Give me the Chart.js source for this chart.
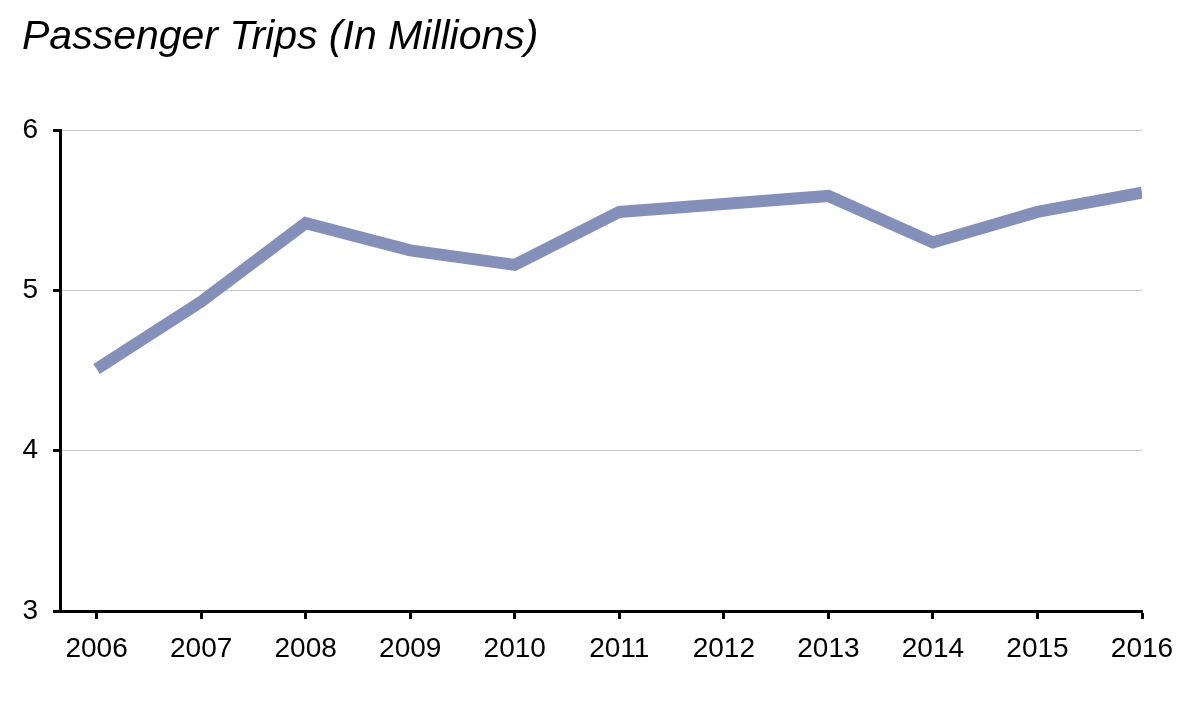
<!DOCTYPE html>
<html>
<head>
<meta charset="utf-8">
<script src="https://cdn.jsdelivr.net/npm/chart.js@4"></script>
<style>
  html, body { margin: 0; padding: 0; background: #fff; }
  #wrap { width: 1200px; height: 708px; }
</style>
</head>
<body>
<div id="wrap"><canvas id="myChart" width="1200" height="708"></canvas></div>
<script>
const years = [2006, 2007, 2008, 2009, 2010, 2011, 2012, 2013, 2014, 2015, 2016];
const trips = [4.51, 4.93, 5.42, 5.25, 5.16, 5.49, 5.54, 5.59, 5.30, 5.49, 5.61];
const yTicks = [3, 4, 5, 6];
const chartTitle = 'Passenger Trips (In Millions)';

const ctx = document.getElementById('myChart');

new Chart(ctx, {
  type: 'line',
  data: {
    datasets: [{
      label: chartTitle,
      data: years.map((y, i) => ({ x: y, y: trips[i] })),
      borderColor: '#8590ba',
      borderWidth: 12,
      borderCapStyle: 'butt',
      borderJoinStyle: 'miter',
      pointRadius: 0,
      tension: 0,
      fill: false
    }]
  },
  options: {
    responsive: false,
    animation: false,
    layout: { padding: { left: 22, right: 58, top: 0, bottom: 0 } },
    plugins: {
      legend: { display: false },
      tooltip: { enabled: false },
      title: {
        display: true,
        text: chartTitle,
        align: 'start',
        color: '#000',
        font: { family: 'Liberation Sans', size: 41, style: 'italic', weight: 'normal' },
        padding: { top: 13, bottom: 68 }
      }
    },
    scales: {
      x: {
        type: 'linear',
        min: 2005.65,
        max: 2016,
        afterBuildTicks: s => { s.ticks = years.map(v => ({ value: v })); },
        afterFit: s => { s.height = 97; },
        ticks: {
          color: '#000',
          padding: 13,
          maxRotation: 0,
          autoSkip: false,
          font: { family: 'Liberation Sans', size: 28 },
          callback: v => String(v)
        },
        grid: {
          drawOnChartArea: false,
          color: '#000',
          tickColor: '#000',
          tickLength: 8,
          tickWidth: 3
        },
        border: { display: true, color: '#000', width: 3 }
      },
      y: {
        min: 3,
        max: 6,
        afterBuildTicks: s => { s.ticks = yTicks.map(v => ({ value: v })); },
        afterFit: s => { s.width = 38; },
        ticks: {
          color: '#000',
          padding: 15,
          font: { family: 'Liberation Sans', size: 28 }
        },
        grid: {
          color: '#c8c8c8',
          lineWidth: 1,
          tickColor: '#000',
          tickLength: 7,
          tickWidth: 3
        },
        border: { display: true, color: '#000', width: 3 }
      }
    }
  }
});
</script>
</body>
</html>
